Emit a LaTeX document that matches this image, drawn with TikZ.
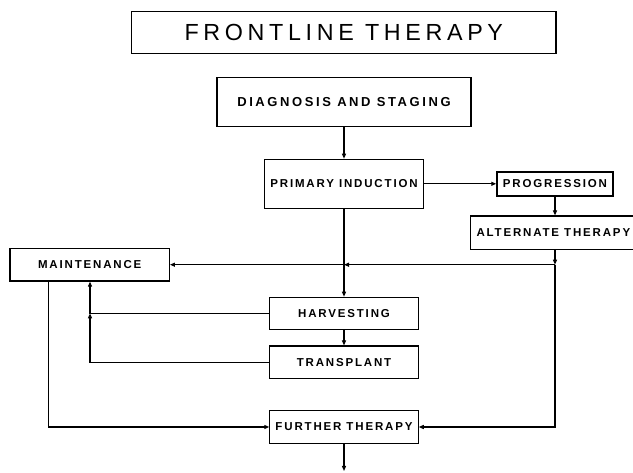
\documentclass[tikz,border=0pt]{standalone}
\usepackage{fontspec}
\setmainfont{Liberation Sans}
\newfontfamily\titlefont[LetterSpace=20]{Liberation Sans}
\newfontfamily\labfont[LetterSpace=16]{Liberation Sans}
\newfontfamily\diagfont[LetterSpace=20]{Liberation Sans}
\usetikzlibrary{arrows.meta}
\begin{document}
\begin{tikzpicture}[x=1pt,y=-1pt,
  box/.style={draw, line width=1.2pt, inner sep=0pt, font=\labfont\bfseries\fontsize{11.5}{13}\selectfont},
  conn/.style={line width=1.1pt},
  arr/.style={conn, -{Triangle[length=5pt,width=4pt]}},
]
\useasboundingbox[fill=white] (0,0) rectangle (633,473);

\node[box, minimum width=424.3pt, minimum height=41.3pt, font=\titlefont\fontsize{23.3}{26}\selectfont] (title) at (343.8,32.5) {FRONTLINE THERAPY};
\node[box, minimum width=254pt, minimum height=49pt, font=\diagfont\bfseries\fontsize{13}{15}\selectfont] (diag) at (344,102.2) {DIAGNOSIS AND STAGING};
\node[box, minimum width=158.7pt, minimum height=49pt] (prim) at (344,183.8) {PRIMARY INDUCTION};
\node[box, line width=1.8pt, minimum width=115.7pt, minimum height=24pt] (prog) at (555,183.8) {PROGRESSION};
\node[box, minimum width=165.3pt, minimum height=33.3pt] (alt) at (553.35,232.7) {ALTERNATE THERAPY};
\node[box, minimum width=159.3pt, minimum height=32.7pt] (maint) at (89.7,264.7) {MAINTENANCE};
\node[box, minimum width=149pt, minimum height=32pt] (harv) at (344,313.3) {HARVESTING};
\node[box, minimum width=149pt, minimum height=32.3pt] (trans) at (344,362.2) {TRANSPLANT};
\node[box, minimum width=148.3pt, minimum height=32.6pt] (further) at (344,427) {FURTHER THERAPY};

\coordinate (jr) at (prog.south |- maint.east);
\coordinate (jm) at (prim.south |- maint.east);
\coordinate (hl) at (90,313.3);
\coordinate (ml) at (48.3,0);
\coordinate (end) at (344,471);

\draw[arr] (diag.south) -- (prim.north);
\draw[arr] (prim.east) -- (prog.west);
\draw[arr] (prog.south) -- (prog.south |- alt.north);
\draw[arr] (prog.south |- alt.south) -- (jr);
\draw[arr] (jr) -- (jm);
\draw[arr] (jm) -- (maint.east);
\draw[arr] (jr) -- (jr |- further.east) -- (further.east);
\draw[arr] (prim.south) -- (harv.north);
\draw[arr] (harv.south) -- (trans.north);
\draw[arr] (harv.west) -- (hl) -- (hl |- maint.south);
\draw[arr] (trans.west) -- (trans.west -| hl) -- (hl);
\draw[arr] (maint.south -| ml) -- (ml |- further.west) -- (further.west);
\draw[arr] (further.south) -- (end);
\end{tikzpicture}
\end{document}
